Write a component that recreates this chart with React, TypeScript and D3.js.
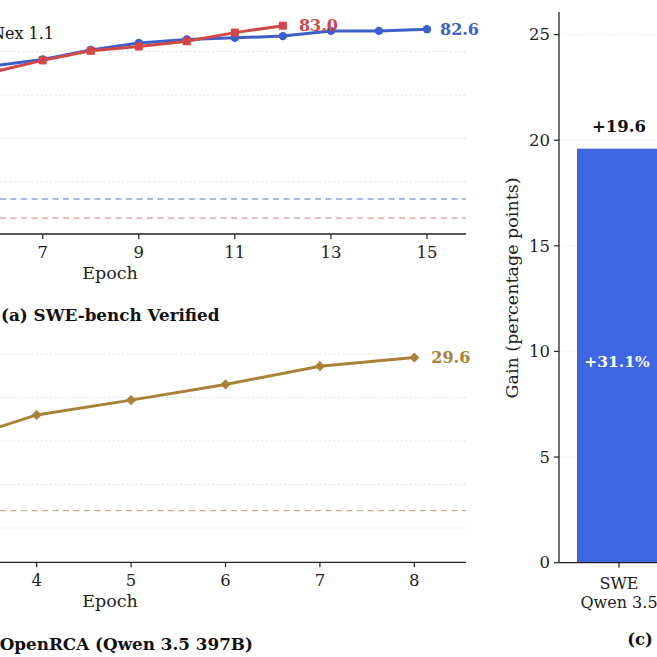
import React from 'react';
import * as d3 from 'd3';

// (a) SWE-bench Verified
const sweQwenEpochs = [6, 7, 8, 9, 10, 11, 12, 13, 14, 15];
const sweQwenScores = [78.4, 79.1, 80.2, 81.0, 81.4, 81.6, 81.8, 82.4, 82.4, 82.6];
const sweNexEpochs = [6, 7, 8, 9, 10, 11, 12];
const sweNexScores = [77.7, 79.0, 80.1, 80.6, 81.2, 82.2, 83.0];
const sweQwenBase = 63.0;
const sweNexBase = 60.8;
const sweTicks = [7, 9, 11, 13, 15];
const sweGrid = [65, 70, 75, 80];

// (b) OpenRCA
const rcaEpochs = [3, 4, 5, 6, 7, 8];
const rcaScores = [19.5, 23.0, 24.7, 26.5, 28.6, 29.6];
const rcaBase = 12.0;
const rcaTicks = [4, 5, 6, 7, 8];
const rcaGrid = [10, 15, 20, 25, 30];

// (c) gains
const gainCats = ['SWE|Qwen 3.5'];
const gainValues = [19.6];
const gainRel = ['+31.1%'];
const gainTicks = [0, 5, 10, 15, 20, 25];

const BLUE = '#3d5fc9';
const RED = '#d24848';
const GOLD = '#a9823a';
const FONT = '"DejaVu Serif", serif';

const App: React.FC = () => {
  // top line panel
  const xA = d3.scaleLinear().domain([7, 15]).range([42.7, 427]);
  const yA = d3.scaleLinear().domain([65, 80]).range([181.7, 51.7]);
  const axisA = 234;

  // bottom line panel
  const xB = d3.scaleLinear().domain([4, 8]).range([36.7, 414.3]);
  const yB = d3.scaleLinear().domain([10, 30]).range([528, 354]);
  const axisB = 562.3;

  // bar panel
  const yC = d3.scaleLinear().domain([0, 25]).range([562.7, 34.6]);
  const xC = d3.scaleBand().domain(gainCats).range([577, 661]).padding(0);

  const lineGen = (xs: d3.ScaleLinear<number, number>, ys: d3.ScaleLinear<number, number>) =>
    d3.line<[number, number]>().x(d => xs(d[0])).y(d => ys(d[1]));

  const zip = (a: number[], b: number[]) => a.map((v, i) => [v, b[i]] as [number, number]);

  const sweQwen = zip(sweQwenEpochs, sweQwenScores);
  const sweNex = zip(sweNexEpochs, sweNexScores);
  const rca = zip(rcaEpochs, rcaScores);

  const lastQ = sweQwen[sweQwen.length - 1];
  const lastN = sweNex[sweNex.length - 1];
  const lastR = rca[rca.length - 1];

  // matplotlib style "D" marker: a square turned 45 degrees
  const diamond = d3.symbol().type(d3.symbolSquare).size(52)()!;

  return (
    <svg width={657} height={657} style={{ position: 'absolute', left: 0, top: 0, background: '#fff' }}
      fontFamily={FONT}>
      {/* ---------- (a) SWE-bench ---------- */}
      {sweGrid.map(v => (
        <line key={'ga' + v} x1={0} x2={466} y1={yA(v)} y2={yA(v)}
          stroke="#e2e2e2" strokeWidth={0.9} strokeDasharray="2.5,2" />
      ))}
      <line x1={0} x2={466} y1={yA(sweQwenBase)} y2={yA(sweQwenBase)}
        stroke="#8fa2d8" strokeWidth={1.4} strokeDasharray="6,4.5" />
      <line x1={0} x2={466} y1={yA(sweNexBase)} y2={yA(sweNexBase)}
        stroke="#d99c9c" strokeWidth={1.4} strokeDasharray="6,4.5" />

      <path d={lineGen(xA, yA)(sweQwen)!} fill="none" stroke={BLUE} strokeWidth={3} />
      {sweQwen.map(d => (
        <circle key={'q' + d[0]} cx={xA(d[0])} cy={yA(d[1])} r={4.2} fill={BLUE} />
      ))}
      <path d={lineGen(xA, yA)(sweNex)!} fill="none" stroke={RED} strokeWidth={3} />
      {sweNex.map(d => (
        <rect key={'n' + d[0]} x={xA(d[0]) - 4} y={yA(d[1]) - 4} width={8} height={8} fill={RED} />
      ))}
      <text x={xA(lastN[0]) + 16} y={yA(lastN[1])} dy="0.35em" fill={RED}
        fontWeight="bold" fontSize={16}>{lastN[1].toFixed(1)}</text>
      <text x={xA(lastQ[0]) + 13} y={yA(lastQ[1])} dy="0.35em" fill={BLUE}
        fontWeight="bold" fontSize={16}>{lastQ[1].toFixed(1)}</text>

      <text x={54} y={39} textAnchor="end" fontSize={16} fill="#111">Nex 1.1</text>

      <line x1={0} x2={466} y1={axisA} y2={axisA} stroke="#222" strokeWidth={1.3} />
      {sweTicks.map(t => (
        <g key={'ta' + t} transform={`translate(${xA(t)},${axisA})`}>
          <line y2={5} stroke="#222" strokeWidth={1.2} />
          <text y={24} textAnchor="middle" fontSize={16.5} fill="#222">{t}</text>
        </g>
      ))}
      <text x={110} y={axisA + 45} textAnchor="middle" fontSize={17.5} fill="#222">Epoch</text>
      <text x={1} y={axisA + 87} fontSize={16.8} fontWeight="bold" fill="#111">(a) SWE-bench Verified</text>

      {/* ---------- (b) OpenRCA ---------- */}
      {rcaGrid.map(v => (
        <line key={'gb' + v} x1={0} x2={466} y1={yB(v)} y2={yB(v)}
          stroke="#e2e2e2" strokeWidth={0.9} strokeDasharray="2.5,2" />
      ))}
      <line x1={0} x2={466} y1={yB(rcaBase)} y2={yB(rcaBase)}
        stroke="#bfae8c" strokeWidth={1.4} strokeDasharray="6,4.5" />
      <path d={lineGen(xB, yB)(rca)!} fill="none" stroke={GOLD} strokeWidth={3} />
      {rca.map(d => (
        <path key={'r' + d[0]} d={diamond}
          transform={`translate(${xB(d[0])},${yB(d[1])}) rotate(45)`} fill={GOLD} />
      ))}
      <text x={xB(lastR[0]) + 17} y={yB(lastR[1])} dy="0.35em" fill={GOLD}
        fontWeight="bold" fontSize={16}>{lastR[1].toFixed(1)}</text>

      <line x1={0} x2={466} y1={axisB} y2={axisB} stroke="#222" strokeWidth={1.3} />
      {rcaTicks.map(t => (
        <g key={'tb' + t} transform={`translate(${xB(t)},${axisB})`}>
          <line y2={5} stroke="#222" strokeWidth={1.2} />
          <text y={24} textAnchor="middle" fontSize={16.5} fill="#222">{t}</text>
        </g>
      ))}
      <text x={110} y={axisB + 45} textAnchor="middle" fontSize={17.5} fill="#222">Epoch</text>
      <text x={253} y={axisB + 88} textAnchor="end" fontSize={16.8} fontWeight="bold" fill="#111">OpenRCA (Qwen 3.5 397B)</text>

      {/* ---------- (c) gains ---------- */}
      {gainTicks.filter(t => t > 0).map(t => (
        <line key={'gc' + t} x1={559} x2={657} y1={yC(t)} y2={yC(t)}
          stroke="#ececec" strokeWidth={0.9} strokeDasharray="2.5,2" />
      ))}
      {gainCats.map((c, i) => {
        const x0 = xC(c)!;
        const w = xC.bandwidth();
        const cx = x0 + w / 2;
        const [l1, l2] = c.split('|');
        return (
          <g key={c}>
            <rect x={x0} y={yC(gainValues[i])} width={w} height={yC(0) - yC(gainValues[i])} fill="#4065e0" />
            <text x={cx} y={yC(gainValues[i]) - 17} textAnchor="middle" fontSize={16.5}
              fontWeight="bold" fill="#111">+{gainValues[i].toFixed(1)}</text>
            <text x={cx - 2} y={yC(gainValues[i] / 2) + 6} dy="0.35em" textAnchor="middle" fontSize={15.5}
              fontWeight="bold" fill="#fff">{gainRel[i]}</text>
            <line x1={cx} x2={cx} y1={yC(0)} y2={yC(0) + 5} stroke="#222" strokeWidth={1.2} />
            <text x={cx} y={yC(0) + 26} textAnchor="middle" fontSize={16} fill="#222">{l1}</text>
            <text x={cx} y={yC(0) + 45} textAnchor="middle" fontSize={16} fill="#222">{l2}</text>
          </g>
        );
      })}
      <line x1={559} x2={559} y1={12} y2={yC(0)} stroke="#222" strokeWidth={1.3} />
      <line x1={559} x2={657} y1={yC(0)} y2={yC(0)} stroke="#222" strokeWidth={1.3} />
      {gainTicks.map(t => (
        <g key={'tc' + t} transform={`translate(559,${yC(t)})`}>
          <line x2={-5} stroke="#222" strokeWidth={1.2} />
          <text x={-9} dy="0.35em" textAnchor="end" fontSize={16.5} fill="#222">{t}</text>
        </g>
      ))}
      <text transform="translate(518,288) rotate(-90)" textAnchor="middle" fontSize={17.5} fill="#222">
        Gain (percentage points)
      </text>
      <text x={640} y={645} textAnchor="middle" fontSize={16.5} fontWeight="bold" fill="#111">(c)</text>
    </svg>
  );
};

export default App;
